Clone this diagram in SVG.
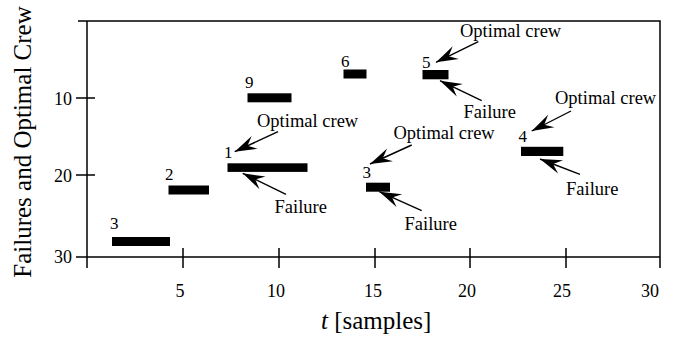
<svg xmlns="http://www.w3.org/2000/svg" width="680" height="338" viewBox="0 0 680 338" font-family="'Liberation Serif', serif">
  <style>
    text { font-family: "Liberation Serif", serif; fill: #000; }
    .tick { font-size: 18px; }
    .num { font-size: 17px; }
    .lbl { font-size: 18.5px; }
    .title { font-size: 25px; }
    .axis { stroke: #000; stroke-width: 1.5; fill: none; }
    .bar { fill: #000; }
    .arrow { stroke: #000; stroke-width: 1.4; fill: none; marker-end: url(#head); }
  </style>
  <defs>
    <marker id="head" markerUnits="userSpaceOnUse" markerWidth="26" markerHeight="18" viewBox="-24 -9 26 18" refX="0" refY="0" orient="auto">
      <path d="M0,0 L-22,-7 L-14,0 L-22,7 Z" fill="#000"/>
    </marker>
  </defs>
  <rect width="680" height="338" fill="#fff"/>

  <!-- frame and ticks -->
  <g id="axes">
    <path class="axis" d="M87,21 V268 M78,21 H660 V268 M76,257 H660 M76,98 H95 M76,175 H95 M183,248 V268 M279,248 V268 M375,248 V268 M470,248 V268 M566,248 V268"/>
    <g class="tick" text-anchor="end">
      <text x="72" y="105">10</text>
      <text x="72" y="182">20</text>
      <text x="72" y="263">30</text>
    </g>
    <g class="tick" text-anchor="middle">
      <text x="180" y="297">5</text>
      <text x="276" y="297">10</text>
      <text x="373" y="297">15</text>
      <text x="467" y="297">20</text>
      <text x="562" y="297">25</text>
      <text x="650" y="297">30</text>
    </g>
    <text class="title" transform="translate(31,142) rotate(-90)" text-anchor="middle">Failures and Optimal Crew</text>
    <text class="title" x="321" y="329"><tspan font-style="italic">t</tspan> [samples]</text>
  </g>

  <!-- failure intervals with crew sizes -->
  <g id="f1"><rect class="bar" x="112" y="237" width="58" height="9"/><text class="num" x="110" y="229">3</text></g>
  <g id="f2"><rect class="bar" x="168.5" y="185.5" width="40.5" height="9"/><text class="num" x="165" y="180">2</text></g>
  <g id="f3"><rect class="bar" x="227.5" y="163.3" width="80" height="8.6"/><text class="num" x="224" y="158">1</text></g>
  <g id="f4"><rect class="bar" x="247.5" y="93.3" width="44" height="9"/><text class="num" x="245" y="88">9</text></g>
  <g id="f5"><rect class="bar" x="343.5" y="69.5" width="23" height="9"/><text class="num" x="341" y="67">6</text></g>
  <g id="f6"><rect class="bar" x="422.5" y="70" width="26" height="9.3"/><text class="num" x="422" y="68">5</text></g>
  <g id="f7"><rect class="bar" x="366" y="182.7" width="24" height="9"/><text class="num" x="362.5" y="178">3</text></g>
  <g id="f8"><rect class="bar" x="521" y="146.8" width="42.3" height="9.2"/><text class="num" x="518.5" y="142">4</text></g>

  <!-- annotations -->
  <g id="labels" class="lbl">
    <text x="257" y="127">Optimal crew</text>
    <text x="274.5" y="213">Failure</text>
    <text x="460" y="37">Optimal crew</text>
    <text x="463.5" y="118">Failure</text>
    <text x="393.5" y="139">Optimal crew</text>
    <text x="404.5" y="230">Failure</text>
    <text x="555" y="104">Optimal crew</text>
    <text x="566" y="195">Failure</text>
  </g>

  <g id="connectors">
    <line class="arrow" x1="278" y1="131.7" x2="234.7" y2="151.7"/>
    <line class="arrow" x1="286" y1="194.3" x2="242.7" y2="173.3"/>
    <line class="arrow" x1="478.3" y1="41.7" x2="436" y2="62.3"/>
    <line class="arrow" x1="481.7" y1="100.7" x2="440" y2="80.7"/>
    <line class="arrow" x1="411.7" y1="145" x2="370" y2="164"/>
    <line class="arrow" x1="421.7" y1="210.7" x2="379.3" y2="191.7"/>
    <line class="arrow" x1="571" y1="111" x2="531.7" y2="131"/>
    <line class="arrow" x1="580" y1="174.3" x2="540" y2="159"/>
  </g>
</svg>
